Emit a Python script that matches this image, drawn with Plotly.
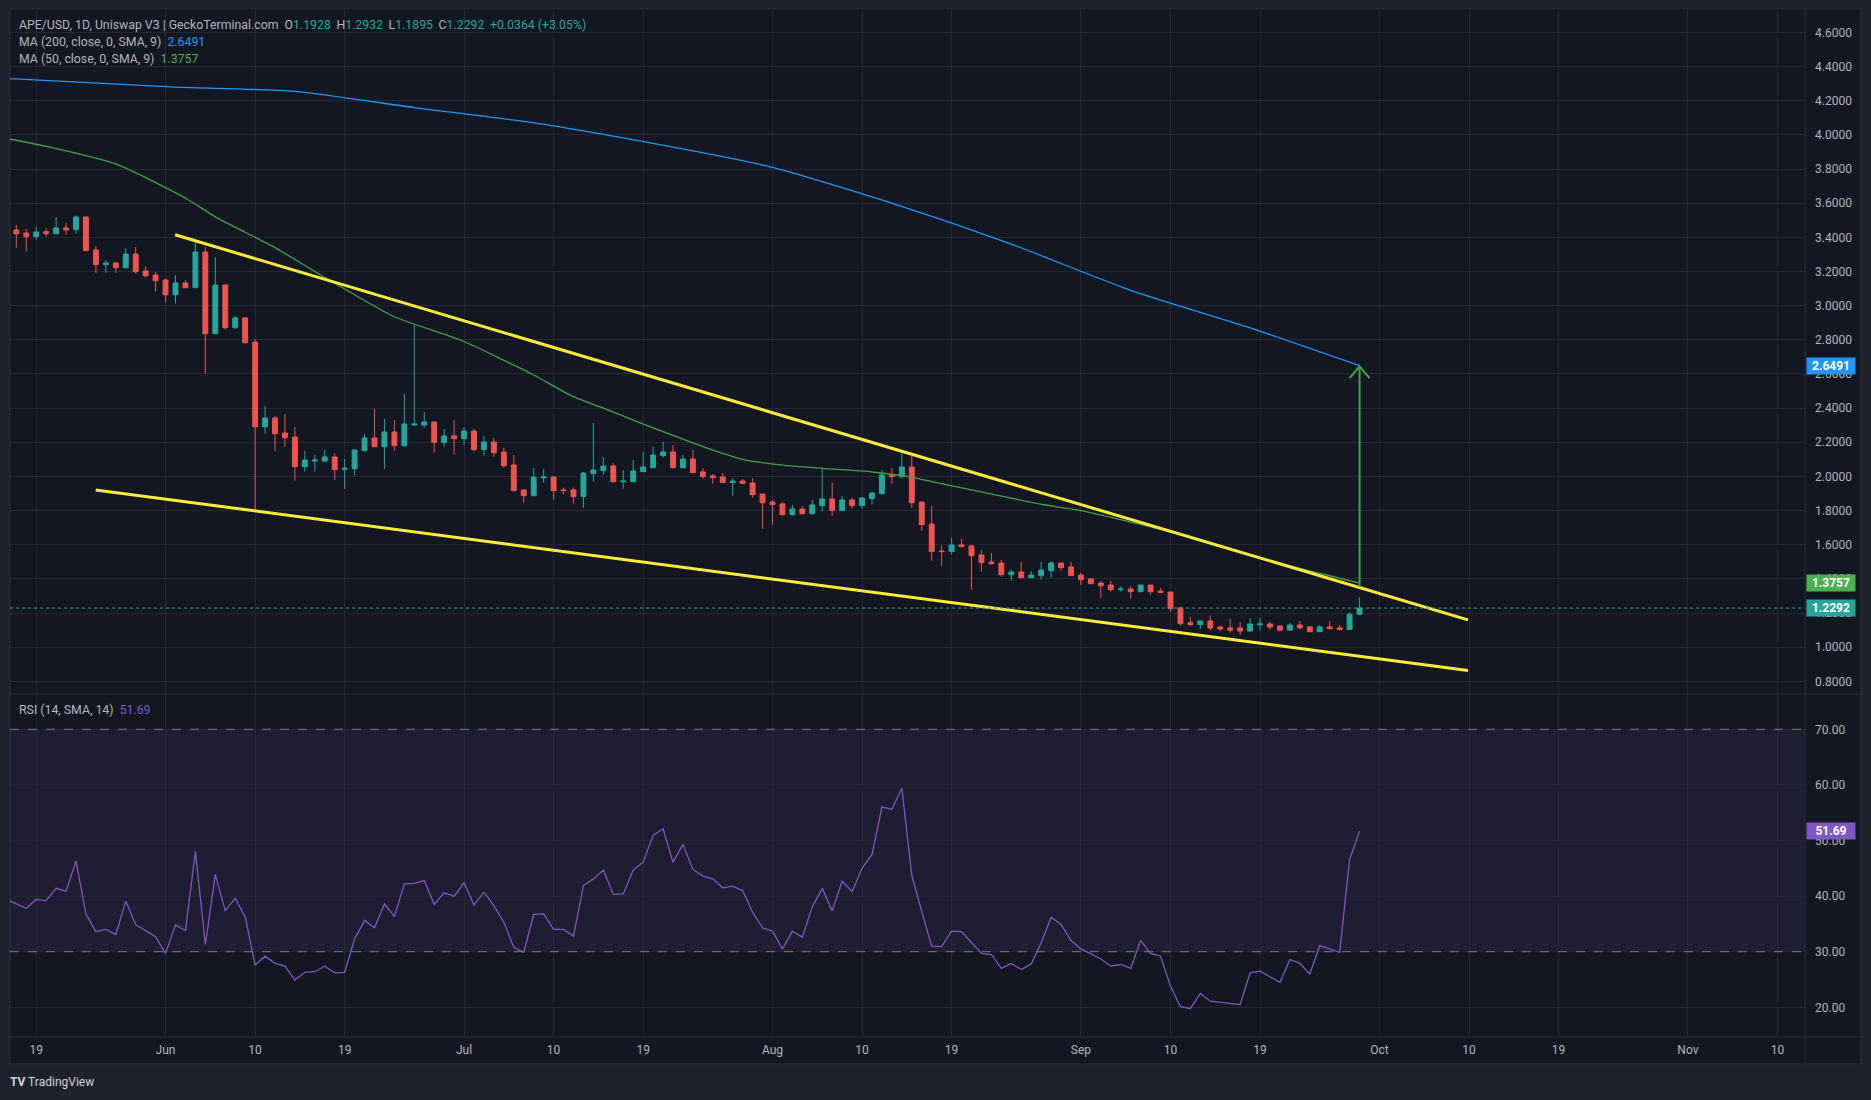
import plotly.graph_objects as go
import pandas as pd

# ---------------- DATA ----------------
candle_start = "2023-05-17"
opens = [3.443, 3.425, 3.404, 3.433, 3.421, 3.455, 3.445, 3.519, 3.326, 3.240,
         3.250, 3.222, 3.302, 3.203, 3.179, 3.150, 3.064, 3.133, 3.105, 3.314,
         2.836, 3.121, 2.871, 2.928, 2.787, 2.291, 2.342, 2.254, 2.231, 2.057,
         2.090, 2.090, 2.114, 2.040, 2.045, 2.151, 2.225, 2.174, 2.260, 2.180,
         2.301, 2.301, 2.319, 2.198, 2.237, 2.221, 2.266, 2.157, 2.202, 2.143,
         2.067, 1.921, 1.887, 1.991, 1.997, 1.921, 1.921, 1.882, 2.016, 2.034,
         2.061, 1.969, 1.969, 2.028, 2.051, 2.122, 2.143, 2.051, 2.102, 2.026,
         2.003, 1.997, 1.964, 1.973, 1.962, 1.897, 1.850, 1.839, 1.776, 1.809,
         1.782, 1.829, 1.868, 1.800, 1.862, 1.829, 1.870, 1.899, 2.008, 1.999,
         2.055, 1.850, 1.721, 1.563, 1.560, 1.599, 1.593, 1.540, 1.499, 1.493,
         1.425, 1.440, 1.407, 1.419, 1.448, 1.493, 1.470, 1.423, 1.400, 1.376,
         1.364, 1.337, 1.341, 1.325, 1.364, 1.329, 1.323, 1.230, 1.144, 1.132,
         1.154, 1.118, 1.113, 1.113, 1.095, 1.132, 1.136, 1.124, 1.100, 1.130,
         1.119, 1.091, 1.119, 1.113, 1.103, 1.1928]
highs = [3.472, 3.449, 3.460, 3.453, 3.519, 3.484, 3.527, 3.519, 3.349, 3.267,
         3.257, 3.337, 3.343, 3.232, 3.197, 3.160, 3.179, 3.150, 3.375, 3.343,
         3.285, 3.121, 2.939, 2.934, 2.805, 2.412, 2.354, 2.366, 2.289, 2.149,
         2.126, 2.155, 2.135, 2.102, 2.155, 2.248, 2.395, 2.336, 2.330, 2.483,
         2.891, 2.377, 2.319, 2.278, 2.330, 2.289, 2.278, 2.237, 2.225, 2.167,
         2.126, 1.921, 2.049, 2.044, 2.003, 1.934, 1.934, 2.026, 2.313, 2.114,
         2.077, 2.038, 2.096, 2.143, 2.172, 2.202, 2.184, 2.126, 2.155, 2.049,
         2.014, 2.020, 1.991, 1.985, 1.991, 1.897, 1.862, 1.850, 1.833, 1.827,
         1.862, 2.047, 1.962, 1.885, 1.874, 1.880, 1.909, 2.038, 2.049, 2.137,
         2.120, 1.850, 1.827, 1.595, 1.640, 1.634, 1.599, 1.569, 1.552, 1.511,
         1.452, 1.499, 1.446, 1.499, 1.505, 1.493, 1.499, 1.435, 1.405, 1.388,
         1.388, 1.358, 1.358, 1.364, 1.364, 1.347, 1.323, 1.237, 1.179, 1.154,
         1.185, 1.125, 1.166, 1.148, 1.171, 1.171, 1.148, 1.130, 1.142, 1.154,
         1.124, 1.130, 1.154, 1.130, 1.206, 1.2932]
lows = [3.339, 3.316, 3.386, 3.404, 3.421, 3.416, 3.421, 3.322, 3.193, 3.193,
        3.193, 3.222, 3.187, 3.164, 3.082, 3.017, 3.012, 3.105, 3.105, 2.602,
        2.836, 2.859, 2.865, 2.783, 1.800, 2.250, 2.145, 2.174, 1.975, 2.028,
        2.028, 2.087, 1.979, 1.928, 2.005, 2.145, 2.174, 2.045, 2.151, 2.174,
        2.297, 2.286, 2.139, 2.174, 2.127, 2.186, 2.145, 2.122, 2.116, 2.051,
        1.911, 1.846, 1.887, 1.964, 1.864, 1.893, 1.841, 1.817, 1.969, 2.010,
        1.969, 1.928, 1.969, 2.028, 2.051, 2.110, 2.051, 2.051, 2.022, 1.987,
        1.958, 1.964, 1.887, 1.958, 1.876, 1.694, 1.718, 1.770, 1.770, 1.776,
        1.776, 1.794, 1.770, 1.800, 1.811, 1.811, 1.835, 1.893, 1.958, 1.987,
        1.817, 1.682, 1.507, 1.478, 1.542, 1.583, 1.337, 1.442, 1.483, 1.413,
        1.390, 1.407, 1.407, 1.396, 1.407, 1.448, 1.419, 1.366, 1.372, 1.290,
        1.325, 1.325, 1.284, 1.325, 1.308, 1.320, 1.208, 1.126, 1.126, 1.107,
        1.098, 1.095, 1.085, 1.070, 1.090, 1.100, 1.100, 1.092, 1.098, 1.105,
        1.091, 1.091, 1.103, 1.103, 1.103, 1.1895]
closes = [3.421, 3.404, 3.431, 3.421, 3.455, 3.443, 3.519, 3.322, 3.240, 3.250,
          3.222, 3.302, 3.199, 3.175, 3.146, 3.064, 3.133, 3.105, 3.314, 2.836,
          3.121, 2.871, 2.928, 2.783, 2.291, 2.342, 2.250, 2.227, 2.057, 2.096,
          2.096, 2.114, 2.040, 2.049, 2.155, 2.225, 2.174, 2.260, 2.180, 2.307,
          2.307, 2.319, 2.198, 2.237, 2.221, 2.266, 2.157, 2.202, 2.139, 2.063,
          1.917, 1.887, 1.997, 1.997, 1.917, 1.917, 1.882, 2.020, 2.038, 2.061,
          1.969, 1.973, 2.032, 2.055, 2.126, 2.143, 2.051, 2.102, 2.022, 1.999,
          1.993, 1.964, 1.973, 1.958, 1.893, 1.846, 1.835, 1.776, 1.809, 1.782,
          1.833, 1.868, 1.800, 1.862, 1.829, 1.874, 1.903, 2.008, 1.999, 2.055,
          1.846, 1.718, 1.560, 1.560, 1.599, 1.589, 1.536, 1.495, 1.489, 1.425,
          1.440, 1.407, 1.423, 1.452, 1.493, 1.466, 1.419, 1.396, 1.372, 1.360,
          1.337, 1.341, 1.325, 1.364, 1.325, 1.320, 1.226, 1.138, 1.132, 1.154,
          1.113, 1.107, 1.100, 1.095, 1.136, 1.136, 1.118, 1.100, 1.130, 1.113,
          1.091, 1.119, 1.109, 1.103, 1.1928, 1.2292]

ma200_dates = ["2023-05-16", "2023-06-02", "2023-06-14", "2023-06-26", "2023-07-08",
               "2023-07-20", "2023-08-01", "2023-08-13", "2023-08-25", "2023-09-06",
               "2023-09-18", "2023-09-29"]
ma200_values = [4.33, 4.28, 4.255, 4.16, 4.07, 3.95, 3.81, 3.60, 3.36, 3.09, 2.87, 2.6491]

ma50_dates = ["2023-05-16", "2023-05-21", "2023-05-27", "2023-06-03", "2023-06-06",
              "2023-06-09", "2023-06-12", "2023-06-16", "2023-06-21", "2023-06-24",
              "2023-07-01", "2023-07-05", "2023-07-08", "2023-07-12", "2023-07-15",
              "2023-07-18", "2023-07-22", "2023-07-25", "2023-07-29", "2023-08-02",
              "2023-08-06", "2023-08-11", "2023-08-15", "2023-08-19", "2023-08-22",
              "2023-08-28", "2023-09-01", "2023-09-09", "2023-09-19", "2023-09-29"]
ma50_values = [3.98, 3.92, 3.83, 3.63, 3.52, 3.43, 3.34, 3.20, 3.03, 2.935,
               2.79, 2.68, 2.594, 2.467, 2.40, 2.33, 2.24, 2.175, 2.10, 2.066,
               2.047, 2.026, 1.995, 1.945, 1.91, 1.837, 1.80, 1.69, 1.52, 1.3757]

rsi_start = "2023-05-16"
rsi_values = [39.4, 38.6, 37.8, 39.4, 39.2, 41.4, 40.9, 46.3, 36.8, 33.6, 34.0,
              33.1, 39.1, 34.9, 33.8, 32.7, 29.7, 34.8, 33.8, 48.0, 31.3,
              43.9, 37.4, 39.6, 36.3, 27.6, 29.2, 27.9, 27.4, 24.9, 26.3,
              26.4, 27.4, 26.2, 26.3, 32.3, 35.6, 34.3, 38.6, 36.3, 42.2,
              42.3, 42.8, 38.5, 40.6, 40.0, 42.4, 38.4, 40.7, 38.3, 35.3,
              30.8, 29.9, 36.7, 36.8, 34.0, 34.0, 32.8, 41.9, 43.1, 44.7,
              40.3, 40.4, 44.7, 46.1, 50.9, 52.1, 46.1, 49.3, 44.8,
              43.6, 43.1, 41.5, 41.8, 41.0, 37.1, 34.3, 33.7, 30.5, 33.7,
              32.6, 38.1, 41.4, 37.3, 42.7, 40.8, 45.0, 47.5, 56.0, 55.6,
              59.4, 43.7, 37.2, 31.0, 30.9, 33.7, 33.6, 31.6, 29.7, 29.5,
              27.0, 27.9, 26.8, 27.8, 31.6, 36.2, 34.9, 32.0, 30.5, 29.6,
              28.7, 27.4, 27.7, 27.0, 32.0, 29.7, 29.2, 23.8, 20.1, 19.8,
              22.5, 21.1, 20.9, 20.7, 20.5, 26.2, 26.5, 25.5, 24.5, 28.6,
              27.9, 26.0, 31.1, 30.5, 29.9, 46.6, 51.69]

upper_trend_dates = ["2023-06-01 23:00", "2023-10-09 21:30"]
upper_trend_prices = [3.415, 1.160]
lower_trend_dates = ["2023-05-24 23:30", "2023-10-09 21:30"]
lower_trend_prices = [1.921, 0.863]

arrow_dates = ["2023-09-29", "2023-09-29", None, "2023-09-28", "2023-09-29", "2023-09-30"]
arrow_prices = [1.354, 2.645, None, 2.575, 2.645, 2.575]

tick_dates = ["2023-05-19", "2023-06-01", "2023-06-10", "2023-06-19", "2023-07-01",
              "2023-07-10", "2023-07-19", "2023-08-01", "2023-08-10", "2023-08-19",
              "2023-09-01", "2023-09-10", "2023-09-19", "2023-10-01", "2023-10-10",
              "2023-10-19", "2023-11-01", "2023-11-10"]
tick_labels = ["19", "Jun", "10", "19", "Jul", "10", "19", "Aug", "10", "19",
               "Sep", "10", "19", "Oct", "10", "19", "Nov", "10"]

last_close = 1.2292
ma200_last = 2.6491
ma50_last = 1.3757
rsi_last = 51.69

# ---------------- STYLE ----------------
UP = "#26a69a"
DOWN = "#ef5350"
BG = "#131722"
OUTER = "#1e222d"
GRID = "#232733"
BORDER = "#2a2e39"
TXT = "#b2b5be"
FONT = "Roboto"

dates = pd.date_range(candle_start, periods=len(closes), freq="D")
rsi_dates = pd.date_range(rsi_start, periods=len(rsi_values), freq="D")

fig = go.Figure()

fig.add_trace(go.Scatter(x=ma200_dates, y=ma200_values, mode="lines",
                         line=dict(color="#2196f3", width=1.3, shape="spline", smoothing=0.6),
                         hoverinfo="skip", showlegend=False, xaxis="x", yaxis="y"))
fig.add_trace(go.Scatter(x=ma50_dates, y=ma50_values, mode="lines",
                         line=dict(color="#43a047", width=1.3, shape="spline", smoothing=0.6),
                         hoverinfo="skip", showlegend=False, xaxis="x", yaxis="y"))

fig.add_trace(go.Candlestick(x=dates, open=opens, high=highs, low=lows, close=closes,
                             increasing=dict(line=dict(color=UP, width=1), fillcolor=UP),
                             decreasing=dict(line=dict(color=DOWN, width=1), fillcolor=DOWN),
                             whiskerwidth=0, hoverinfo="skip", showlegend=False,
                             xaxis="x", yaxis="y"))

for dts, prs in ((upper_trend_dates, upper_trend_prices), (lower_trend_dates, lower_trend_prices)):
    fig.add_trace(go.Scatter(x=dts, y=prs, mode="lines",
                             line=dict(color="#ffeb3b", width=3),
                             hoverinfo="skip", showlegend=False, xaxis="x", yaxis="y"))

fig.add_trace(go.Scatter(x=arrow_dates, y=arrow_prices, mode="lines",
                         line=dict(color="#43a047", width=2),
                         hoverinfo="skip", showlegend=False, connectgaps=False,
                         xaxis="x", yaxis="y"))

fig.add_trace(go.Scatter(x=rsi_dates, y=rsi_values, mode="lines",
                         line=dict(color="#7e57c2", width=1.3),
                         hoverinfo="skip", showlegend=False, xaxis="x2", yaxis="y2"))

# layout geometry (pixels)
W, H = 1871, 1100
L, R, T, B = 10, 66, 9, 63
PW = W - L - R
PH = H - T - B
split = (1037 - 694) / PH


def px(x):
    return (x - L) / PW


def py(y):
    return (H - B - y) / PH


x_range = ["2023-05-16 08:48", "2023-11-12 18:28"]

fig.update_layout(
    width=W, height=H,
    margin=dict(l=L, r=R, t=T, b=B),
    paper_bgcolor=OUTER, plot_bgcolor=BG,
    font=dict(family=FONT, color=TXT, size=12),
    showlegend=False,
    xaxis=dict(domain=[0, 1], anchor="y", range=x_range, type="date",
               tickvals=tick_dates, showticklabels=False, showgrid=True,
               gridcolor=GRID, gridwidth=1, zeroline=False, showline=False,
               rangeslider=dict(visible=False), ticks=""),
    xaxis2=dict(domain=[0, 1], anchor="y2", range=x_range, type="date", matches="x",
                tickvals=tick_dates, ticktext=tick_labels, showgrid=True,
                gridcolor=GRID, gridwidth=1, zeroline=False, showline=False,
                ticks="", tickfont=dict(size=12, color=TXT), ticklabelstandoff=4),
    yaxis=dict(domain=[split, 1], anchor="x", side="right", range=[0.726, 4.737],
               tick0=0, dtick=0.2, tickformat=".4f", showgrid=True, gridcolor=GRID,
               zeroline=False, showline=False, ticks="", ticklabelstandoff=9,
               tickfont=dict(size=12, color=TXT)),
    yaxis2=dict(domain=[0, split], anchor="x2", side="right", range=[14.66, 76.35],
                tickvals=[20, 30, 40, 50, 60, 70], tickformat=".2f", showgrid=True,
                gridcolor=GRID, zeroline=False, showline=False, ticks="",
                ticklabelstandoff=9, tickfont=dict(size=12, color=TXT)),
)

shapes = [
    # chart background
    dict(type="rect", xref="paper", yref="paper", x0=px(10), x1=px(1861), y0=py(1064), y1=py(9),
         fillcolor=BG, line=dict(color=BORDER, width=1), layer="below"),
    # RSI band
    dict(type="rect", xref="paper", yref="y2", x0=0, x1=1, y0=30, y1=70,
         fillcolor="rgba(126,87,194,0.1)", line=dict(width=0), layer="below"),
    dict(type="line", xref="paper", yref="y2", x0=0, x1=1, y0=70, y1=70,
         line=dict(color="#787b86", width=1, dash="dash")),
    dict(type="line", xref="paper", yref="y2", x0=0, x1=1, y0=30, y1=30,
         line=dict(color="#787b86", width=1, dash="dash")),
    # price line
    dict(type="line", xref="paper", yref="y", x0=0, x1=1, y0=last_close, y1=last_close,
         line=dict(color=UP, width=1, dash="dot")),
    # separators
    dict(type="line", xref="paper", yref="paper", x0=px(10), x1=px(1861), y0=py(694), y1=py(694),
         line=dict(color=BORDER, width=1)),
    dict(type="line", xref="paper", yref="paper", x0=px(10), x1=px(1861), y0=py(1037), y1=py(1037),
         line=dict(color=BORDER, width=1)),
    dict(type="line", xref="paper", yref="paper", x0=px(1805), x1=px(1805), y0=py(1064), y1=py(9),
         line=dict(color=BORDER, width=1)),
]
fig.update_layout(shapes=shapes)

ann = []


def axis_label(text, y, yref, color):
    ann.append(dict(x=px(1806), xref="paper", xanchor="left", y=y, yref=yref, yanchor="middle",
                    text="<b>" + text + "</b>", showarrow=False, bgcolor=color,
                    font=dict(color="#ffffff", size=12, family=FONT),
                    width=46, height=14, borderpad=1, align="center"))


axis_label(f"{ma200_last:.4f}", ma200_last, "y", "#2196f3")
axis_label(f"{ma50_last:.4f}", ma50_last, "y", "#4caf50")
axis_label(f"{last_close:.4f}", last_close, "y", UP)
axis_label(f"{rsi_last:.2f}", rsi_last, "y2", "#7e57c2")

SP = "&nbsp;\u2009"
teal = '<span style="color:#26a69a">'
header = ("APE/USD, 1D, Uniswap V3 | GeckoTerminal.com&nbsp;&nbsp;O" + teal + "1.1928</span>" + SP + "H"
          + teal + "1.2932</span>" + SP + "L" + teal + "1.1895</span>" + SP + "C" + teal
          + "1.2292</span>" + SP + teal + "+0.0364 (+3.05%)</span>")
lines = [
    (header, 25),
    ('MA (200, close, 0, SMA, 9)&nbsp;&nbsp;<span style="color:#2196f3">2.6491</span>', 42.3),
    ('MA (50, close, 0, SMA, 9)&nbsp;&nbsp;<span style="color:#4caf50">1.3757</span>', 59.3),
    ('RSI (14, SMA, 14)&nbsp;&nbsp;<span style="color:#7e57c2">51.69</span>', 710),
]
for txt, ypix in lines:
    ann.append(dict(x=px(17), xref="paper", xanchor="left", y=py(ypix), yref="paper",
                    yanchor="middle", text=txt, showarrow=False,
                    font=dict(color=TXT, size=12.3, family=FONT)))

ann.append(dict(x=px(8), xref="paper", xanchor="left", y=py(1082), yref="paper", yanchor="middle",
                text="<b>TV</b> TradingView", showarrow=False,
                font=dict(color="#d1d4dc", size=12, family=FONT)))
fig.update_layout(annotations=ann)

fig.write_html("out.html")
